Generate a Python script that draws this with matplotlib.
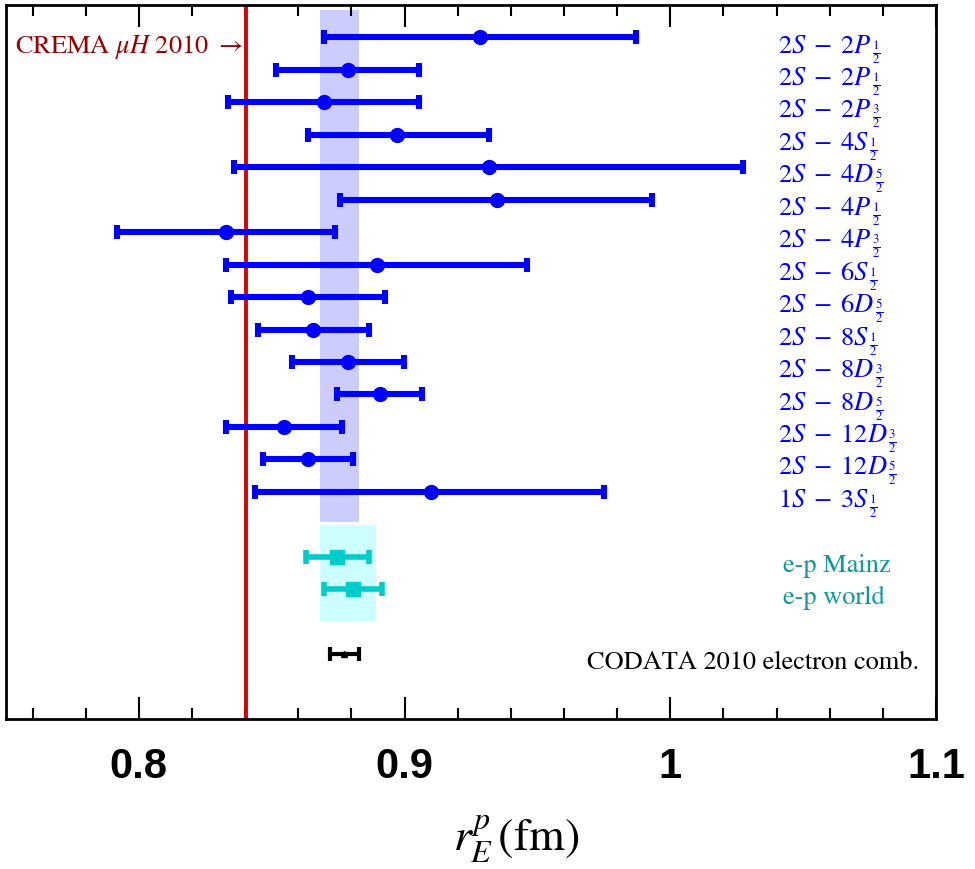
import matplotlib
matplotlib.use("Agg")
import matplotlib.pyplot as plt
import numpy as np

plt.rcParams['mathtext.fontset'] = 'stix'
plt.rcParams['font.family'] = ['STIXGeneral', 'DejaVu Sans']

# ---- data ----
labels = [r'$2S\;-\;2P_{\,\frac{1}{2}}$', r'$2S\;-\;2P_{\,\frac{1}{2}}$', r'$2S\;-\;2P_{\,\frac{3}{2}}$',
          r'$2S\;-\;4S_{\,\frac{1}{2}}$', r'$2S\;-\;4D_{\,\frac{5}{2}}$', r'$2S\;-\;4P_{\,\frac{1}{2}}$',
          r'$2S\;-\;4P_{\,\frac{3}{2}}$', r'$2S\;-\;6S_{\,\frac{1}{2}}$', r'$2S\;-\;6D_{\,\frac{5}{2}}$',
          r'$2S\;-\;8S_{\,\frac{1}{2}}$', r'$2S\;-\;8D_{\,\frac{3}{2}}$', r'$2S\;-\;8D_{\,\frac{5}{2}}$',
          r'$2S\;-\;12D_{\,\frac{3}{2}}$', r'$2S\;-\;12D_{\,\frac{5}{2}}$', r'$1S\;-\;3S_{\,\frac{1}{2}}$']
h_rows = np.arange(1, 16)
h_center = [0.9282, 0.8786, 0.8695, 0.8970, 0.9316, 0.9346, 0.8327, 0.8895,
            0.8635, 0.8654, 0.8786, 0.8906, 0.8545, 0.8635, 0.9098]
h_low = [0.8695, 0.8515, 0.8335, 0.8635, 0.8357, 0.8756, 0.7917, 0.8327,
         0.8346, 0.8447, 0.8575, 0.8744, 0.8327, 0.8466, 0.8436]
h_high = [0.9872, 0.9056, 0.9056, 0.9316, 1.0274, 0.9932, 0.8737, 0.9462,
          0.8925, 0.8865, 0.8996, 0.9064, 0.8763, 0.8805, 0.9752]

ep_labels = ['e-p Mainz', 'e-p world']
ep_rows = [17, 18]
ep_center = [0.8746, 0.8805]
ep_low = [0.8628, 0.8695]
ep_high = [0.8865, 0.8914]

codata_label = 'CODATA 2010 electron comb.'
codata_row = 20
codata_center = 0.8772
codata_low = 0.8718
codata_high = 0.8827

crema_value = 0.8405
crema_label = r'CREMA $\mu H$ 2010 $\rightarrow$'

h_band = (0.8680, 0.8827)
h_band_rows = (0.15, 15.93)
ep_band = (0.8680, 0.8893)
ep_band_rows = (16.02, 18.97)

xticks = [0.8, 0.9, 1.0, 1.1]
xticklabels = ['0.8', '0.9', '1', '1.1']

# ---- figure ----
fig = plt.figure(figsize=(9.75, 8.69), dpi=100)
ax = fig.add_axes([6/975, 1-719/869, 930/975, 714/869])
ax.set_xlim(0.75, 1.1)
ax.set_ylim(22, 0)

blue = '#0000FF'
cyan = '#00CCCC'

ax.axvspan(h_band[0], h_band[1], ymin=1-h_band_rows[1]/22, ymax=1-h_band_rows[0]/22,
           color='#CCCCFF', lw=0, zorder=1)
ax.axvspan(ep_band[0], ep_band[1], ymin=1-ep_band_rows[1]/22, ymax=1-ep_band_rows[0]/22,
           color='#CCFFFF', lw=0, zorder=1)
ax.axvline(crema_value, color='#DD0000', lw=2.8, zorder=2)

hc = np.array(h_center)
ax.errorbar(hc, h_rows, xerr=[hc-np.array(h_low), np.array(h_high)-hc], fmt='o', color=blue,
            ms=10, lw=4.4, capsize=5, capthick=4.4, zorder=3)
ec = np.array(ep_center)
ax.errorbar(ec, ep_rows, xerr=[ec-np.array(ep_low), np.array(ep_high)-ec], fmt='s', color=cyan,
            ms=10, lw=4.0, capsize=5, capthick=4.0, zorder=3)
ax.errorbar([codata_center], [codata_row], xerr=[[codata_center-codata_low], [codata_high-codata_center]],
            fmt='^', color='black', ms=4, lw=3, capsize=5, capthick=3, zorder=3)

ty = 0.47
for r, lab in zip(h_rows, labels):
    ax.text(1.0405, r+ty, lab, color=blue, fontsize=19, ha='left', va='baseline')
for r, lab in zip(ep_rows, ep_labels):
    ax.text(1.0425, r+ty, lab, color='#119999', fontsize=19, ha='left', va='baseline')
ax.text(1.0937, codata_row+ty, codata_label, color='black', fontsize=19, ha='right', va='baseline')
ax.text(crema_value-0.0014, 1+ty, crema_label, color='#990000', fontsize=19, ha='right', va='baseline')

ax.set_xticks(xticks)
ax.set_xticklabels(xticklabels, fontfamily='Liberation Sans', fontweight='bold', fontsize=30)
ax.set_xticks(np.arange(0.76, 1.1, 0.02), minor=True)
ax.tick_params(axis='x', which='major', direction='in', length=16, width=1.5, top=True, pad=20)
ax.tick_params(axis='x', which='minor', direction='in', length=8, width=1.5, top=True)
ax.set_yticks([])
for s in ax.spines.values():
    s.set_linewidth(2)

ax.set_xlabel(r'$r_E^p\,(\mathrm{fm})$', fontsize=33)
ax.xaxis.set_label_coords((516-6)/930, -0.168)
ax.xaxis.label.set_va('center')

fig.savefig('out.png', dpi=100)
